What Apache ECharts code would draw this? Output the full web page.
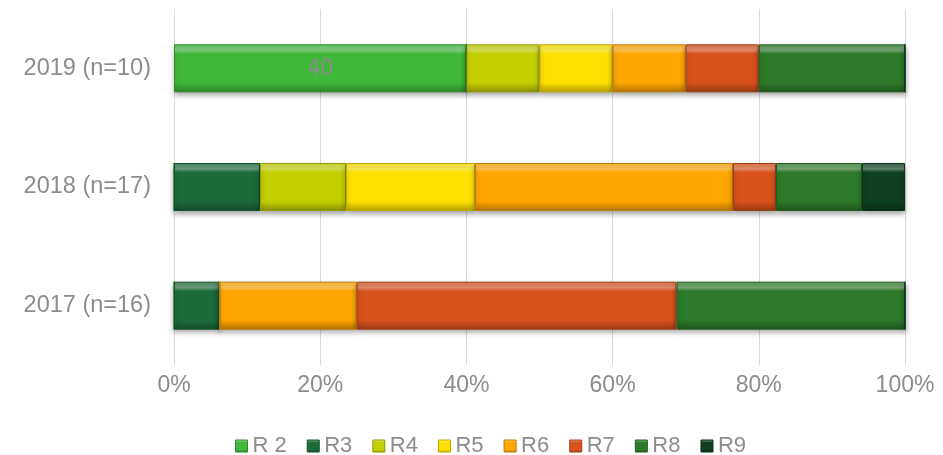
<!DOCTYPE html>
<html>
<head>
<meta charset="utf-8">
<script src="https://cdn.jsdelivr.net/npm/echarts@6/dist/echarts.min.js"></script>
<style>
  html, body { margin: 0; padding: 0; background: #fff; }
  #chart { width: 943px; height: 455px; }
</style>
</head>
<body>
<div id="chart"></div>
<script>
// Years, bottom to top, with the number of responses per year
const years = ['2017 (n=16)', '2018 (n=17)', '2019 (n=10)'];
const totals = [16, 17, 10];

// Number of responses per rating class, per year (2017, 2018, 2019)
const seriesNames = ['R 2', 'R3', 'R4', 'R5', 'R6', 'R7', 'R8', 'R9'];
const r2 = [0, 0, 4];
const r3 = [1, 2, 0];
const r4 = [0, 2, 1];
const r5 = [0, 3, 1];
const r6 = [3, 6, 1];
const r7 = [7, 1, 1];
const r8 = [5, 2, 2];
const r9 = [0, 1, 0];
const counts = [r2, r3, r4, r5, r6, r7, r8, r9];

const xTicks = [0, 20, 40, 60, 80, 100];

const baseColors = ['#3fb83a', '#1d6b3b', '#c3cf00', '#ffe100', '#ffa600', '#d8521d', '#2d7a2a', '#0e3f20'];

function shade(hex, amt) {
  const n = parseInt(hex.slice(1), 16);
  let r = (n >> 16) & 255, g = (n >> 8) & 255, b = n & 255;
  const f = v => Math.max(0, Math.min(255, Math.round(amt >= 0 ? v + (255 - v) * amt : v * (1 + amt))));
  return 'rgb(' + f(r) + ',' + f(g) + ',' + f(b) + ')';
}

// Vertical gradient giving the bars a raised, bevelled look
function bevel(hex) {
  return new echarts.graphic.LinearGradient(0, 0, 0, 1, [
    { offset: 0, color: shade(hex, 0.2) },
    { offset: 0.12, color: shade(hex, 0.35) },
    { offset: 0.2, color: hex },
    { offset: 0.8, color: hex },
    { offset: 0.9, color: shade(hex, -0.15) },
    { offset: 1, color: shade(hex, -0.3) }
  ]);
}

const gray = '#8c8c8c';
const font = 'Liberation Sans, Arial, sans-serif';

const series = seriesNames.map((name, i) => ({
  name: name,
  type: 'bar',
  stack: 'total',
  barWidth: 48,
  data: counts[i].map((c, j) => {
    const pct = c / totals[j] * 100;
    const item = { value: pct };
    if (i === 0 && c > 0) {
      item.label = {
        show: true,
        position: 'inside',
        formatter: p => Math.round(p.value),
        color: gray,
        fontSize: 23,
        fontFamily: font
      };
    }
    return item;
  }),
  itemStyle: {
    color: bevel(baseColors[i]),
    borderColor: shade(baseColors[i], -0.25),
    borderWidth: 1,
    shadowColor: 'rgba(0,0,0,0.35)',
    shadowBlur: 5,
    shadowOffsetY: 3
  },
  emphasis: { disabled: true }
}));

const chart = echarts.init(document.getElementById('chart'));
chart.setOption({
  animation: false,
  backgroundColor: '#fff',
  textStyle: { fontFamily: font },
  grid: { left: 174, right: 38, top: 9, bottom: 90, containLabel: false },
  xAxis: {
    type: 'value',
    min: xTicks[0],
    max: xTicks[xTicks.length - 1],
    interval: xTicks[1] - xTicks[0],
    axisLine: { show: false },
    axisTick: { show: false },
    splitLine: { lineStyle: { color: '#d9d9d9', width: 1 } },
    axisLabel: { formatter: '{value}%', color: gray, fontSize: 23, margin: 9 }
  },
  yAxis: {
    type: 'category',
    data: years,
    axisLine: { show: true, lineStyle: { color: '#d9d9d9' } },
    axisTick: { show: false },
    axisLabel: { color: gray, fontSize: 23.5, margin: 23 }
  },
  legend: {
    data: seriesNames.map((n, i) => ({
      name: n,
      itemStyle: { color: bevel(baseColors[i]), borderColor: shade(baseColors[i], -0.25), borderWidth: 1 }
    })),
    top: 430,
    left: 230,
    padding: [5, 5, 5, 5],
    icon: 'rect',
    itemWidth: 12,
    itemHeight: 12,
    itemGap: 20,
    textStyle: { color: gray, fontSize: 22 }
  },
  series: series
});
</script>
</body>
</html>
